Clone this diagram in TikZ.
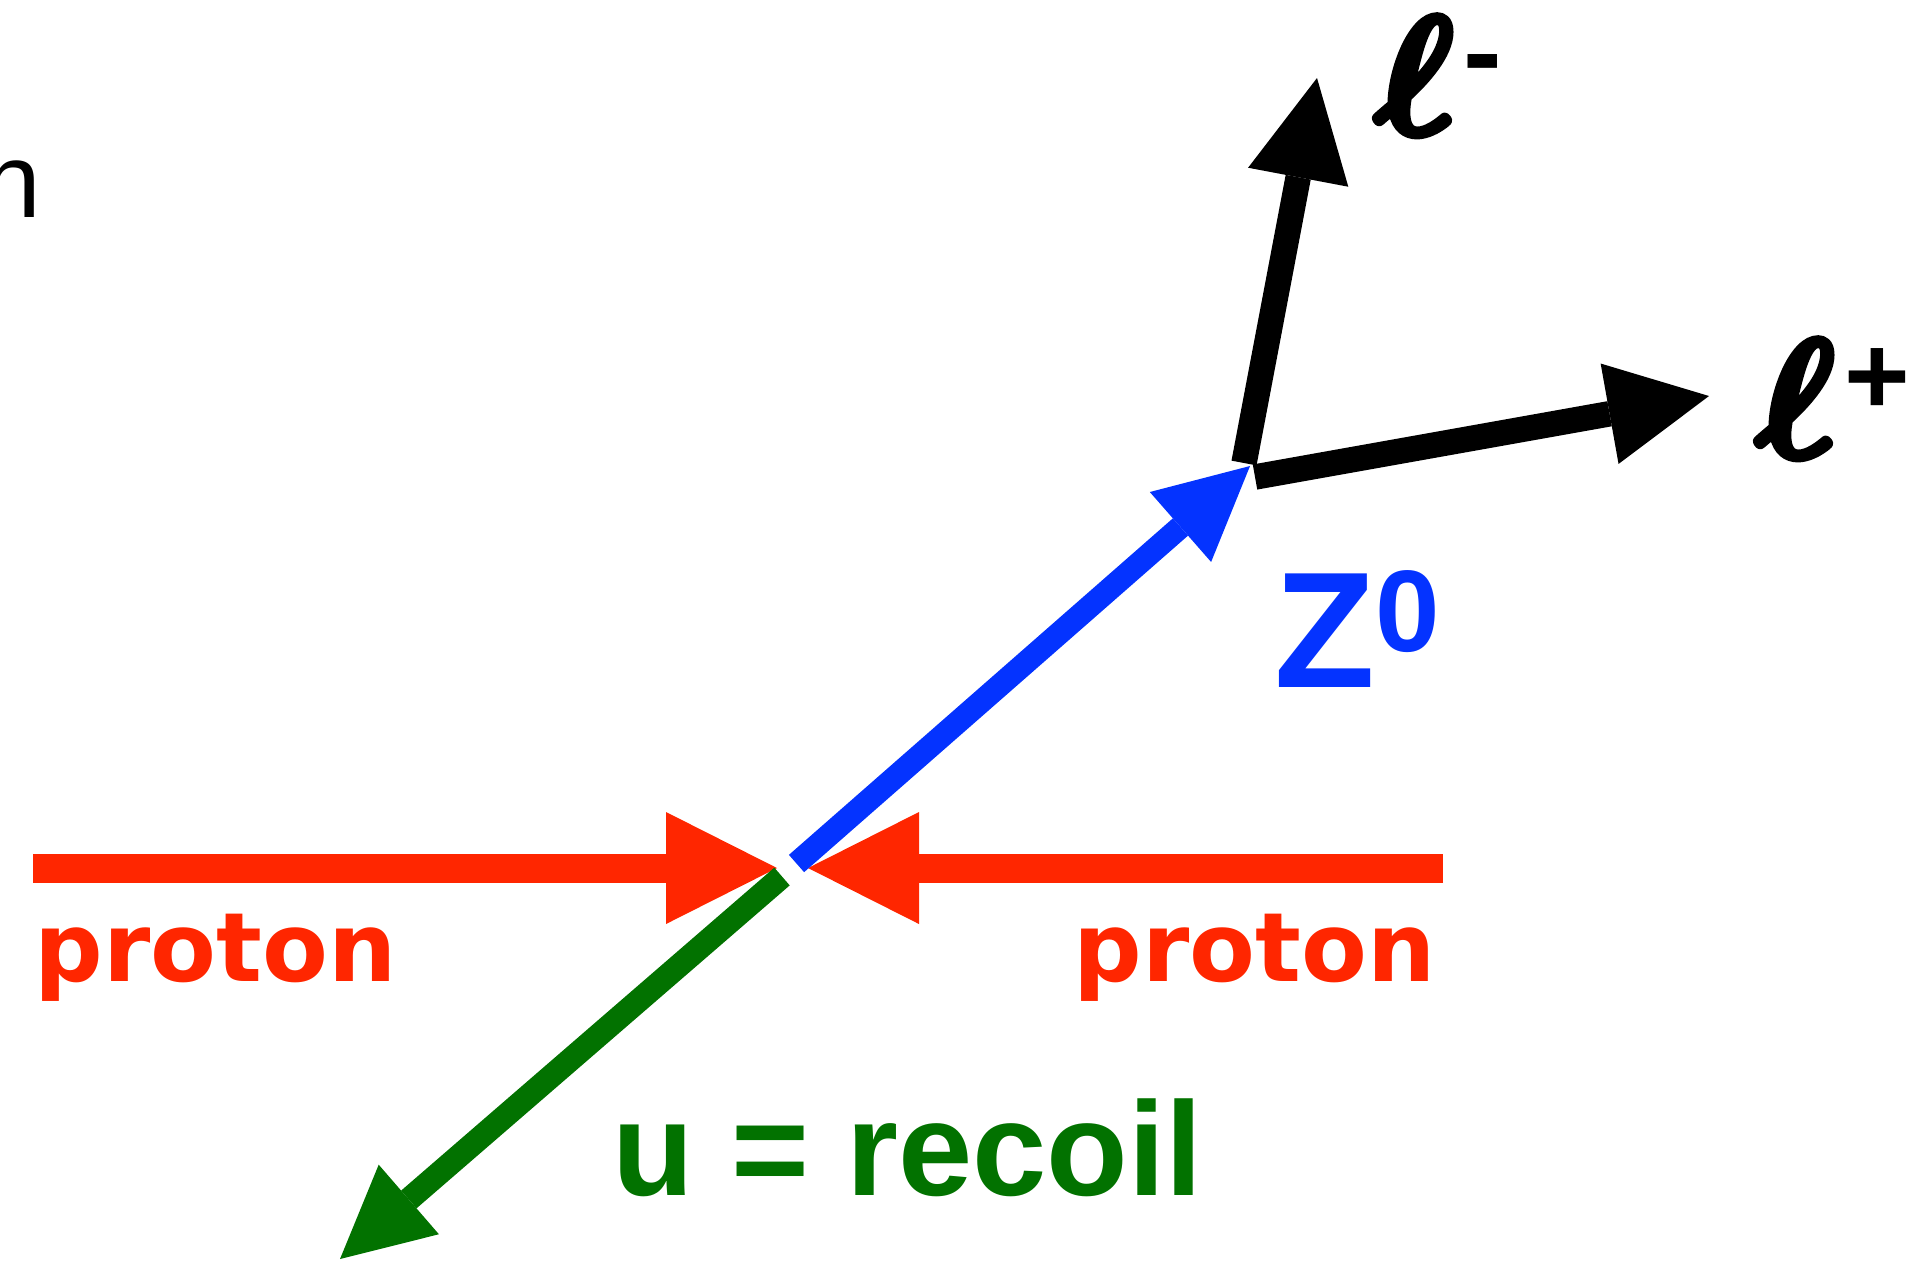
\documentclass[tikz,border=0pt]{standalone}
\usepackage{amsmath}
\usepackage{fontspec}
\newfontfamily\signfont{Liberation Sans}
\newfontfamily\protonfont{DejaVu Sans}
\usetikzlibrary{arrows.meta}
\definecolor{Proton}{HTML}{FF2600}
\definecolor{Boson}{HTML}{0433FF}
\definecolor{Recoil}{HTML}{027200}
% heavier script ell: glyph filled and stroked
\newcommand{\heavy}[1]{\special{pdf:literal direct 2 Tr 0.4 w 1 j}#1\special{pdf:literal direct 0 Tr}}
\newcommand{\bigell}{\scalebox{4.8}{\heavy{$\boldsymbol{\ell}$}}}

\begin{document}
\begin{tikzpicture}[x=0.1mm, y=-0.1mm, inner sep=0pt,
    beam/.style={Proton, line width=2.9mm, -{Triangle[length=11.1mm, width=11.2mm, line width=0pt]}},
    lepton/.style={black, line width=2.55mm, -{Triangle[length=10.1mm, width=10.2mm, line width=0pt]}},
    protonlabel/.style={anchor=base west, text=Proton, font=\protonfont\bfseries\fontsize{27.3}{30}\selectfont}]
    \useasboundingbox (0,0) rectangle (1916,1260);

    % end points of the arrows
    \coordinate (pLs) at (33,868);
    \coordinate (pLt) at (777,868);
    \coordinate (pRs) at (1443,868);
    \coordinate (pRt) at (808,868);
    \coordinate (zs) at (796.5,863.5);
    \coordinate (zt) at (1250,466);
    \coordinate (us) at (782,876.5);
    \coordinate (ut) at (340,1259);
    \coordinate (lms) at (1244,463);
    \coordinate (lmt) at (1317,78);
    \coordinate (lps) at (1255,477);
    \coordinate (lpt) at (1709,396);

    \draw[beam] (pLs) -- (pLt);
    \draw[beam] (pRs) -- (pRt);
    \draw[Boson, line width=2.3mm, -{Triangle[length=9.25mm, width=9.3mm, line width=0pt]}] (zs) -- (zt);
    \draw[Recoil, line width=2.35mm, -{Triangle[length=9.1mm, width=9.2mm, line width=0pt]}] (us) -- (ut);
    \draw[lepton] (lms) -- (lmt);
    \draw[lepton] (lps) -- (lpt);

    \node[protonlabel] (protonL) at (34,981) {proton};
    \node[protonlabel] (protonR) at (1073,981) {proton};
    \node[anchor=base west, text=Recoil, font=\signfont\bfseries\fontsize{38}{40}\selectfont] (recoil) at (612,1195) {u = recoil};
    \node[anchor=base west, text=Boson, font=\signfont\bfseries\fontsize{47}{50}\selectfont] (zboson) at (1274,687)
      {Z\raisebox{10pt}{\fontsize{33}{33}\selectfont 0}};
    \node[anchor=base west] (lminus) at (1374,134)
      {\bigell\hspace{2.5pt}\raisebox{12pt}{\signfont\bfseries\fontsize{33}{33}\selectfont -}};
    \node[anchor=base west] (lplus) at (1755,457)
      {\bigell\hspace{2.5pt}\raisebox{12pt}{\signfont\bfseries\fontsize{32}{32}\selectfont +}};
    \node[anchor=base west, font=\signfont\fontsize{30}{30}\selectfont] (cut) at (-18,217) {n};
  \end{tikzpicture}
\end{document}
